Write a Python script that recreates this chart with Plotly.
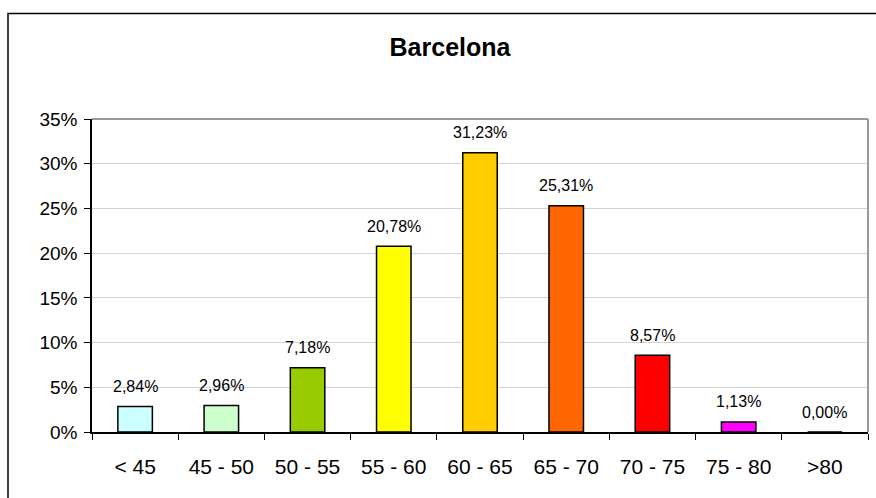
import plotly.graph_objects as go

categories = ["< 45", "45 - 50", "50 - 55", "55 - 60", "60 - 65", "65 - 70", "70 - 75", "75 - 80", ">80"]
shares = [0.0284, 0.0296, 0.0718, 0.2078, 0.3123, 0.2531, 0.0857, 0.0113, 0.0]
bar_colors = ["#CCFFFF", "#CCFFCC", "#99CC00", "#FFFF00", "#FFCC00", "#FF6600", "#FF0000", "#FF00FF", "#FFFFFF"]
y_ticks = [0, 0.05, 0.10, 0.15, 0.20, 0.25, 0.30, 0.35]
y_tick_labels = ["0%", "5%", "10%", "15%", "20%", "25%", "30%", "35%"]

W, H = 876, 498
ML, MR, MT, MB = 92, 8, 119, 66

def pct_label(v):
    return f"{v * 100:.2f}".replace(".", ",") + "%"

fig = go.Figure()
fig.add_trace(go.Bar(
    x=categories,
    y=shares,
    marker=dict(color=bar_colors, line=dict(color="black", width=1.5)),
    width=0.4,
    hoverinfo="x+y",
))

# value labels above the bars
for c, v in zip(categories, shares):
    fig.add_annotation(
        x=c, y=v, text=pct_label(v), showarrow=False,
        yshift=20, yanchor="middle",
        font=dict(family="Liberation Sans, Arial", size=16, color="black"),
    )

# outer chart frame
fig.add_shape(
    type="rect", xref="paper", yref="paper",
    x0=(8 - ML) / (W - ML - MR), x1=(W + 10 - ML) / (W - ML - MR),
    y0=-(H + 10 - (H - MB)) / (H - MT - MB), y1=(H - 13.5 - MB) / (H - MT - MB),
    line=dict(color="black", width=1.5), layer="below",
)

fig.update_layout(
    width=W, height=H,
    margin=dict(l=ML, r=MR, t=MT, b=MB),
    paper_bgcolor="white", plot_bgcolor="white",
    showlegend=False,
    title=dict(
        text="<b>Barcelona</b>", x=450 / W, xanchor="center",
        y=1 - 47 / H, yanchor="middle",
        font=dict(family="Liberation Sans, Arial", size=25, color="black"),
    ),
    font=dict(family="Liberation Sans, Arial", color="black"),
)

fig.update_xaxes(
    showgrid=False,
    showline=True, linecolor="black", linewidth=1.5,
    ticks="outside", tickson="boundaries", ticklen=6, tickcolor="black", tickwidth=1,
    tickfont=dict(size=21, color="black"),
    ticklabelstandoff=15,
)
fig.update_yaxes(
    range=[0, 0.35],
    tickvals=y_ticks, ticktext=y_tick_labels,
    showgrid=True, gridcolor="#D4D4D4", gridwidth=1,
    showline=True, linecolor="black", linewidth=1.5,
    ticks="outside", ticklen=6, tickcolor="black", tickwidth=1,
    tickfont=dict(size=19, color="black"),
    ticklabelstandoff=3,
    zeroline=False,
)

# plot area border (top and right, gray)
fig.add_shape(type="line", xref="paper", yref="paper", x0=0, x1=1, y0=1, y1=1,
              line=dict(color="#999999", width=2))
fig.add_shape(type="line", xref="paper", yref="paper", x0=1, x1=1, y0=0, y1=1,
              line=dict(color="#999999", width=2))

fig.write_html("out.html")
